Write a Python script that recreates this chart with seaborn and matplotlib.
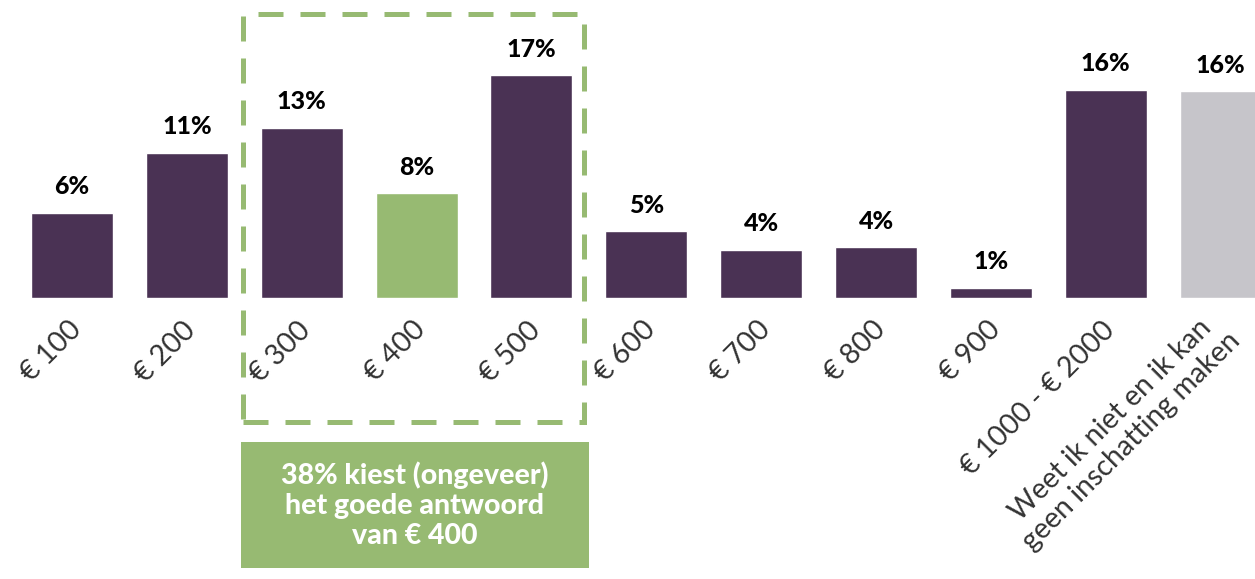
import matplotlib
matplotlib.use("Agg")
import matplotlib.pyplot as plt
import matplotlib.transforms as mtransforms
from matplotlib.patches import Rectangle
import seaborn as sns
import pandas as pd

categories = ["€ 100", "€ 200", "€ 300", "€ 400", "€ 500", "€ 600", "€ 700",
              "€ 800", "€ 900", "€ 1000 - € 2000",
              "Weet ik niet en ik kan\ngeen inschatting maken"]
values = [6.5, 11.1, 13.0, 8.0, 17.0, 5.1, 3.7, 3.9, 0.8, 15.9, 15.8]
value_labels = ["6%", "11%", "13%", "8%", "17%", "5%", "4%", "4%", "1%", "16%", "16%"]
annotation = "38% kiest (ongeveer)\nhet goede antwoord\nvan € 400"

PURPLE = "#4A3254"
GREEN = "#97BA72"
GRAY = "#C6C5CA"
colors = [PURPLE] * len(categories)
colors[3] = GREEN
colors[-1] = GRAY

sns.set_theme(style="white")
plt.rcParams["font.family"] = ["Lato", "DejaVu Sans"]

df = pd.DataFrame({"cat": categories, "val": values})

fig = plt.figure(figsize=(12.55, 5.79), dpi=100)
ax = fig.add_axes([0, 0.4853, 1, 0.5147])
sns.barplot(data=df, x="cat", y="val", hue="cat", palette=colors,
            legend=False, width=0.714, ax=ax, saturation=1)

ax.set_xlim(-0.627, 10.30)
ax.set_ylim(0, 22.75)
for s in ax.spines.values():
    s.set_visible(False)
ax.set_yticks([])
ax.set_xlabel("")
ax.set_ylabel("")
ax.tick_params(axis="x", length=0, pad=20)
ax.set_xticks(range(len(categories)))
ax.set_xticklabels(categories, rotation=45, ha="right", va="center",
                   rotation_mode="anchor", fontsize=20.5, color="#333333",
                   fontweight="normal", multialignment="center")
shift = mtransforms.ScaledTranslation(5 / 100, 0, fig.dpi_scale_trans)
for t in ax.get_xticklabels():
    t.set_transform(t.get_transform() + shift)

for i, (v, lab) in enumerate(zip(values, value_labels)):
    ax.text(i, v + 1.1, lab, ha="center", va="bottom", fontsize=18,
            fontweight="black", color="black")

# dashed highlight box
dash = Rectangle((1.49, -9.47), 4.46 - 1.49, 21.68 + 9.47, fill=False,
                 edgecolor=GREEN, linewidth=3.6, linestyle=(0, (5, 3.4)),
                 clip_on=False)
ax.add_patch(dash)

# annotation box
box = Rectangle((1.47, -20.6), 4.50 - 1.47, 20.6 - 11.0, facecolor=GREEN,
                edgecolor="none", clip_on=False)
ax.add_patch(box)
ax.text((1.47 + 4.50) / 2, -15.8, annotation, ha="center", va="center",
        fontsize=20.5, fontweight="black", color="white", linespacing=1.2,
        clip_on=False)

fig.savefig("out.png", dpi=100)
